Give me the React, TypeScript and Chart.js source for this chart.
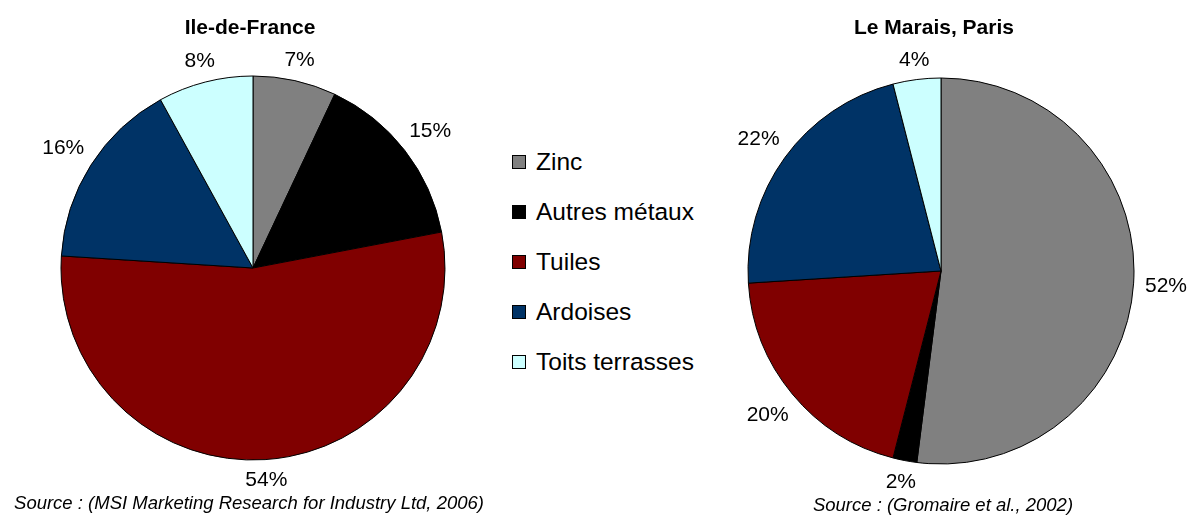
import React, { useEffect, useRef } from "react";
import { Chart, registerables } from "chart.js";

Chart.register(...registerables);

const categories = ["Zinc", "Autres métaux", "Tuiles", "Ardoises", "Toits terrasses"];
const sliceColors = ["#808080", "#000000", "#800000", "#003366", "#CCFFFF"];
const ileDeFranceValues = [7, 15, 54, 16, 8];
const maraisValues = [52, 2, 20, 22, 4];
const chartTitles = ["Ile-de-France", "Le Marais, Paris"];
const sourceTexts = [
  "Source : (MSI Marketing Research for Industry Ltd, 2006)",
  "Source : (Gromaire et al., 2002)",
];

const FONT = '"Liberation Sans", Arial, Helvetica, sans-serif';

const outsideLabels = {
  id: "outsideLabels",
  afterDatasetsDraw(chart: any) {
    const ctx = chart.ctx;
    const meta = chart.getDatasetMeta(0);
    const data = chart.data.datasets[0].data as number[];
    const total = data.reduce((a, b) => a + b, 0);
    ctx.save();
    ctx.font = `21px ${FONT}`;
    ctx.fillStyle = "#000";
    ctx.textAlign = "center";
    ctx.textBaseline = "middle";
    meta.data.forEach((arc: any, i: number) => {
      const { x, y, startAngle, endAngle, outerRadius } = arc.getProps(
        ["x", "y", "startAngle", "endAngle", "outerRadius"],
        true
      );
      const mid = (startAngle + endAngle) / 2;
      const text = Math.round((data[i] / total) * 100) + "%";
      const w = ctx.measureText(text).width;
      const h = 15;
      const c = Math.cos(mid);
      const s = Math.sin(mid);
      const d = outerRadius + 11 + (Math.abs(c) * w) / 2 + (Math.abs(s) * h) / 2;
      ctx.fillText(text, x + c * d, y + s * d + 1);
    });
    ctx.restore();
  },
};

type Pad = { left: number; right: number; top: number; bottom: number };

function Pie(props: { values: number[]; left: number; top: number; width: number; height: number; pad: Pad }) {
  const ref = useRef<HTMLCanvasElement | null>(null);
  useEffect(() => {
    if (!ref.current) return;
    const chart = new Chart(ref.current, {
      type: "pie",
      data: {
        labels: categories,
        datasets: [
          {
            data: props.values,
            backgroundColor: sliceColors,
            borderColor: "#000000",
            borderWidth: 1,
            hoverOffset: 0,
          },
        ],
      },
      options: {
        responsive: false,
        animation: false,
        devicePixelRatio: 1,
        layout: { padding: props.pad },
        plugins: {
          legend: { display: false },
          tooltip: { enabled: false },
          title: { display: false },
        },
        events: [],
      },
      plugins: [outsideLabels],
    });
    return () => chart.destroy();
  }, []);
  return (
    <canvas
      ref={ref}
      width={props.width}
      height={props.height}
      style={{
        position: "absolute",
        left: props.left,
        top: props.top,
        width: props.width,
        height: props.height,
      }}
    />
  );
}

export default function App() {
  return (
    <div
      style={{
        position: "absolute",
        left: 0,
        top: 0,
        width: 1188,
        height: 515,
        background: "#ffffff",
        fontFamily: FONT,
        color: "#000",
        overflow: "hidden",
      }}
    >
      <Pie
        values={ileDeFranceValues}
        left={23}
        top={38}
        width={460}
        height={460}
        pad={{ left: 37.5, right: 37.5, top: 37.5, bottom: 37.5 }}
      />
      <Pie
        values={maraisValues}
        left={711}
        top={41}
        width={477}
        height={460}
        pad={{ left: 35.5, right: 52.5, top: 36.5, bottom: 36.5 }}
      />

      {[250, 934].map((cx, i) => (
        <div
          key={"t" + i}
          style={{
            position: "absolute",
            left: cx - 200,
            width: 400,
            top: 15,
            lineHeight: "24px",
            textAlign: "center",
            fontWeight: "bold",
            fontSize: 21,
          }}
        >
          {chartTitles[i]}
        </div>
      ))}

      {categories.map((cat, i) => (
        <div key={"l" + i}>
          <div
            style={{
              position: "absolute",
              left: 512,
              top: 162 + i * 50 - 7,
              width: 14,
              height: 14,
              boxSizing: "border-box",
              border: "1px solid #000",
              background: sliceColors[i],
            }}
          />
          <div
            style={{
              position: "absolute",
              left: 536,
              top: 162 + i * 50 - 14,
              lineHeight: "28px",
              fontSize: 24.5,
              whiteSpace: "nowrap",
            }}
          >
            {cat}
          </div>
        </div>
      ))}

      {[
        [249, 503],
        [943, 505],
      ].map(([cx, cy], i) => (
        <div
          key={"s" + i}
          style={{
            position: "absolute",
            left: cx - 300,
            width: 600,
            top: cy - 11,
            lineHeight: "22px",
            textAlign: "center",
            fontStyle: "italic",
            fontSize: 18.5,
            whiteSpace: "nowrap",
          }}
        >
          {sourceTexts[i]}
        </div>
      ))}
    </div>
  );
}
